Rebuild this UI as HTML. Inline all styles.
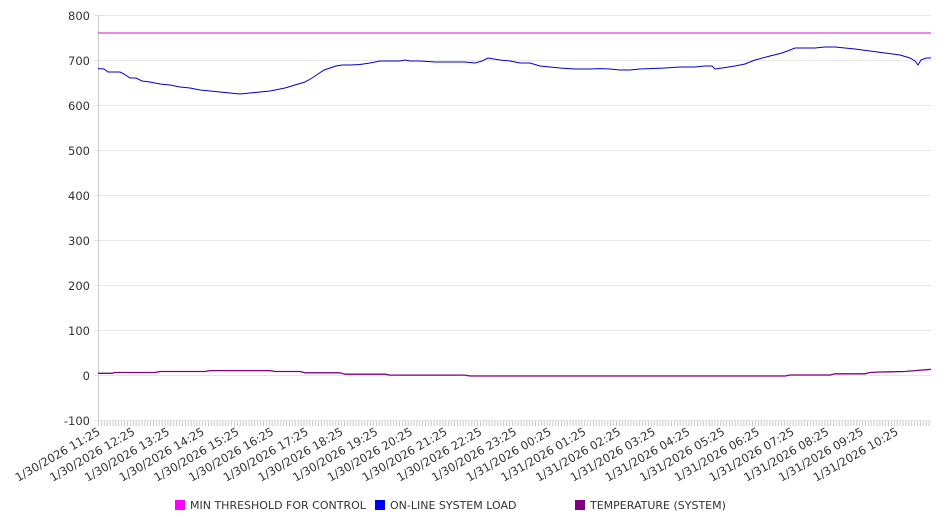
<!DOCTYPE html>
<html><head><style>body{margin:0;background:#fff}svg{display:block}text{font-family:"DejaVu Sans","Liberation Sans",sans-serif;fill:#333}</style></head><body>
<svg width="946" height="526" viewBox="0 0 946 526">
<defs><pattern id="mt" x="98" y="0" width="2.894" height="10" patternUnits="userSpaceOnUse"><line x1="0.5" y1="0" x2="0.5" y2="10" stroke="#bbb" stroke-width="0.8"/></pattern></defs>
<g stroke="#e6e6e6" stroke-width="1">
<line x1="94" y1="15.5" x2="931" y2="15.5"/><line x1="94" y1="60.5" x2="931" y2="60.5"/><line x1="94" y1="105.5" x2="931" y2="105.5"/><line x1="94" y1="150.5" x2="931" y2="150.5"/><line x1="94" y1="195.5" x2="931" y2="195.5"/><line x1="94" y1="240.5" x2="931" y2="240.5"/><line x1="94" y1="285.5" x2="931" y2="285.5"/><line x1="94" y1="330.5" x2="931" y2="330.5"/><line x1="94" y1="375.5" x2="931" y2="375.5"/><line x1="94" y1="420.5" x2="931" y2="420.5"/>
</g>
<line x1="98.5" y1="15" x2="98.5" y2="421" stroke="#ccc"/>
<rect x="98" y="421" width="833" height="5" fill="url(#mt)"/>
<g font-size="11.5" text-anchor="end">
<text x="90" y="20">800</text><text x="90" y="65">700</text><text x="90" y="110">600</text><text x="90" y="155">500</text><text x="90" y="200">400</text><text x="90" y="245">300</text><text x="90" y="290">200</text><text x="90" y="335">100</text><text x="90" y="380">0</text><text x="90" y="425">-100</text>
</g>
<line x1="98" y1="33" x2="931" y2="33" stroke="#d010d0" stroke-width="1"/>
<polyline fill="none" stroke="#0000cc" stroke-width="1" points="98,68.6 104,69 108,72 120,72 124,74 130,78 136,78 142,81 150,82 160,84 170,85 180,87 190,88 200,90 210,91 220,92 230,93 240,94 250,93 260,92 270,91 275,90 285,88 295,85 305,82 312,78 318,74 324,70 330,68 336,66 342,65 350,65 360,64.5 370,63 380,61 390,61 400,61 405,60 410,61 420,61 435,62 450,62 465,62 475,63 482,61 488,58 494,59 500,60 510,61 520,63 530,63 540,66 550,67 560,68 575,69 590,69 600,68.6 610,69 620,70 630,70 640,69 650,68.6 665,68 680,67 695,67 705,66 712,66 715,69 722,68 735,66 745,64 755,60 770,56 782,53 790,50 795,48 805,48 815,48 825,47 835,47 845,48 855,49 870,51 885,53 900,55 910,58 915,61 918,65 921,60 926,58 931,58"/>
<polyline fill="none" stroke="#800080" stroke-width="1.3" points="98,373.3 112,373.3 115,372.5 155,372.5 160,371.5 205,371.5 210,370.6 270,370.6 275,371.5 300,371.5 305,372.8 340,372.8 345,374.2 385,374.2 390,375.1 465,375.1 470,376 785,376 790,375 830,375 835,373.8 865,373.8 870,372.5 880,372 905,371.5 915,370.6 931,369.3"/>
<g font-size="11.5" text-anchor="end">
<text transform="translate(101,434) rotate(-30)">1/30/2026 11:25</text>
<text transform="translate(135.7,434) rotate(-30)">1/30/2026 12:25</text>
<text transform="translate(170.4,434) rotate(-30)">1/30/2026 13:25</text>
<text transform="translate(205.1,434) rotate(-30)">1/30/2026 14:25</text>
<text transform="translate(239.8,434) rotate(-30)">1/30/2026 15:25</text>
<text transform="translate(274.5,434) rotate(-30)">1/30/2026 16:25</text>
<text transform="translate(309.2,434) rotate(-30)">1/30/2026 17:25</text>
<text transform="translate(343.9,434) rotate(-30)">1/30/2026 18:25</text>
<text transform="translate(378.6,434) rotate(-30)">1/30/2026 19:25</text>
<text transform="translate(413.3,434) rotate(-30)">1/30/2026 20:25</text>
<text transform="translate(448,434) rotate(-30)">1/30/2026 21:25</text>
<text transform="translate(482.7,434) rotate(-30)">1/30/2026 22:25</text>
<text transform="translate(517.4,434) rotate(-30)">1/30/2026 23:25</text>
<text transform="translate(552.1,434) rotate(-30)">1/31/2026 00:25</text>
<text transform="translate(586.8,434) rotate(-30)">1/31/2026 01:25</text>
<text transform="translate(621.5,434) rotate(-30)">1/31/2026 02:25</text>
<text transform="translate(656.2,434) rotate(-30)">1/31/2026 03:25</text>
<text transform="translate(690.9,434) rotate(-30)">1/31/2026 04:25</text>
<text transform="translate(725.6,434) rotate(-30)">1/31/2026 05:25</text>
<text transform="translate(760.3,434) rotate(-30)">1/31/2026 06:25</text>
<text transform="translate(795,434) rotate(-30)">1/31/2026 07:25</text>
<text transform="translate(829.7,434) rotate(-30)">1/31/2026 08:25</text>
<text transform="translate(864.4,434) rotate(-30)">1/31/2026 09:25</text>
<text transform="translate(899.1,434) rotate(-30)">1/31/2026 10:25</text>
</g>
<g font-size="11">
<rect x="175" y="500" width="10" height="10" fill="#ff00ff"/><text x="190" y="509">MIN THRESHOLD FOR CONTROL</text>
<rect x="375" y="500" width="10" height="10" fill="#0000ff"/><text x="390" y="509">ON-LINE SYSTEM LOAD</text>
<rect x="575" y="500" width="10" height="10" fill="#800080"/><text x="590" y="509">TEMPERATURE (SYSTEM)</text>
</g>
</svg>
</body></html>
